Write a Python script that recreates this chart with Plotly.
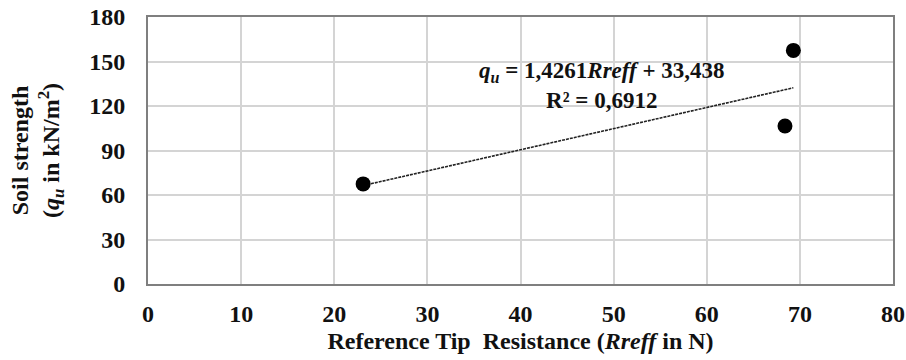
import plotly.graph_objects as go

# Measured points: reference tip resistance (N) vs soil strength (kN/m²)
rreff = [23.1, 68.4, 69.3]
soil_strength = [67.5, 106.5, 157.5]

# Linear trendline coefficients (shown in the equation label)
slope = 1.4261
intercept = 33.438
r_squared = 0.6912

x_ticks = [0, 10, 20, 30, 40, 50, 60, 70, 80]
y_ticks = [0, 30, 60, 90, 120, 150, 180]

fmt = lambda v, d: f"{v:.{d}f}".replace(".", ",")

trend_x = [min(rreff), max(rreff)]
trend_y = [slope * x + intercept for x in trend_x]

FONT = "Liberation Serif"
FS = 24

fig = go.Figure()
fig.add_trace(go.Scatter(
    x=trend_x, y=trend_y, mode="lines",
    line=dict(color="#222222", width=1.6, dash="3px,1px"),
    showlegend=False, hoverinfo="skip",
))
fig.add_trace(go.Scatter(
    x=rreff, y=soil_strength, mode="markers",
    marker=dict(color="black", size=15),
    showlegend=False,
))

eq_text = (f"<i>q<sub>u</sub></i> = {fmt(slope, 4)}<i>Rreff</i> + {fmt(intercept, 3)}"
           f"<br>R² = {fmt(r_squared, 4)}")
fig.add_annotation(
    x=48.7, y=133.5, xref="x", yref="y", text=eq_text, showarrow=False,
    font=dict(family=FONT, size=23, color="#111111", weight="bold"),
    align="center",
)

fig.update_layout(
    width=906, height=360,
    margin=dict(l=148, r=13, t=17, b=76),
    paper_bgcolor="white", plot_bgcolor="white",
    font=dict(family=FONT, size=FS, color="#111111", weight="bold"),
    xaxis=dict(
        range=[0, 80], tickvals=x_ticks, showgrid=True,
        gridcolor="#d4d4d4", gridwidth=1.5,
        showline=True, mirror=True, linecolor="#7f7f7f", linewidth=2,
        zeroline=False, ticklabelstandoff=7, automargin=False,
        tickfont=dict(family=FONT, size=FS, weight="bold"),
        title=dict(text="Reference Tip  Resistance (<i>Rreff</i> in N)",
                   font=dict(family=FONT, size=FS, weight="bold"), standoff=6),
    ),
    yaxis=dict(
        range=[0, 180], tickvals=y_ticks, showgrid=True,
        gridcolor="#d4d4d4", gridwidth=1.5,
        showline=True, mirror=True, linecolor="#7f7f7f", linewidth=2,
        zeroline=False, ticklabelstandoff=16, automargin=False,
        tickfont=dict(family=FONT, size=FS, weight="bold"),
        title=dict(text="Soil strength<br>(<i>q<sub>u</sub></i> in kN/m<sup>2</sup>)",
                   font=dict(family=FONT, size=FS, weight="bold"), standoff=23),
    ),
)

fig.write_html("out.html")
